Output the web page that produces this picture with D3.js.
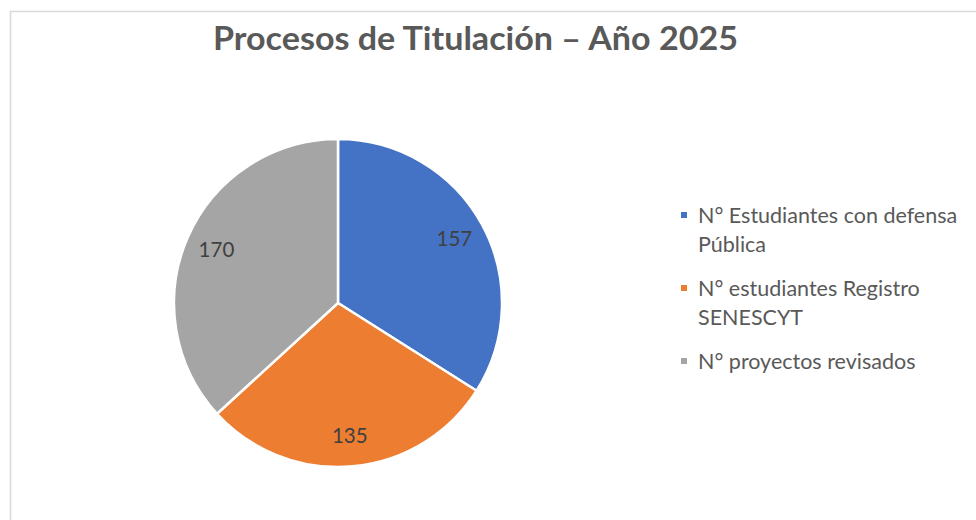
<!DOCTYPE html>
<html>
<head>
<meta charset="utf-8">
<script src="https://cdn.jsdelivr.net/npm/d3@7"></script>
<style>
  body { margin: 0; background: #fff; }
  text { font-family: Lato, "Liberation Sans", sans-serif; }
</style>
</head>
<body>
<div id="chart"></div>
<script>
// chart data
var categories = ["N° Estudiantes con defensa Pública", "N° estudiantes Registro SENESCYT", "N° proyectos revisados"];
var legendLines = [["N° Estudiantes con defensa", "Pública"], ["N° estudiantes Registro", "SENESCYT"], ["N° proyectos revisados"]];
var values = [157, 135, 170];
var colors = ["#4472C4", "#ED7D31", "#A5A5A5"];
var title = "Procesos de Titulación – Año 2025";

var svgWidth = 976;
var svgHeight = 520;
var cx = 338, cy = 303, radius = 164;

var svg = d3.select("#chart")
    .append("svg")
    .attr("width", svgWidth)
    .attr("height", svgHeight);

// chart area border (only top and left visible in frame)
svg.append("rect")
    .attr("x", 10.5)
    .attr("y", 11.5)
    .attr("width", 1200)
    .attr("height", 800)
    .attr("fill", "none")
    .attr("stroke", "#d9d9d9")
    .attr("stroke-width", 1.5);

// title
svg.append("text")
    .attr("x", 475.5)
    .attr("y", 50)
    .attr("text-anchor", "middle")
    .attr("font-size", "32px")
    .attr("font-weight", "bold")
    .attr("fill", "#595959")
    .attr("textLength", 525)
    .attr("lengthAdjust", "spacingAndGlyphs")
    .text(title);

var color = d3.scaleOrdinal().domain(categories).range(colors);

var pie = d3.pie().sort(null).value(function(d) { return d.value; });
var data = categories.map(function(c, i) { return {name: c, value: values[i]}; });
var arcs = pie(data);

var arc = d3.arc().innerRadius(0).outerRadius(radius);
var labelArc = d3.arc().innerRadius(radius * 0.81).outerRadius(radius * 0.81);

var g = svg.append("g").attr("transform", "translate(" + cx + "," + cy + ")");

g.selectAll("path")
    .data(arcs)
    .enter()
    .append("path")
    .attr("d", arc)
    .attr("fill", function(d) { return color(d.data.name); })
    .attr("stroke", "#fff")
    .attr("stroke-width", 2.5)
    .attr("stroke-linejoin", "round");

g.selectAll(".lbl")
    .data(arcs)
    .enter()
    .append("text")
    .attr("class", "lbl")
    .attr("transform", function(d) { return "translate(" + labelArc.centroid(d) + ")"; })
    .attr("text-anchor", "middle")
    .attr("dy", "0.36em")
    .attr("font-size", "20.5px")
    .attr("fill", "#404040")
    .text(function(d) { return d.data.value; });

// legend
var legendTop = [223, 296, 369];
var legend = svg.selectAll(".legend")
    .data(categories)
    .enter()
    .append("g")
    .attr("class", "legend")
    .attr("transform", function(d, i) { return "translate(0," + legendTop[i] + ")"; });

legend.append("rect")
    .attr("x", 681)
    .attr("y", -11)
    .attr("width", 6)
    .attr("height", 6)
    .attr("fill", function(d) { return color(d); });

legend.append("text")
    .attr("x", 698)
    .attr("y", 0)
    .attr("font-size", "21.5px")
    .attr("fill", "#595959")
    .selectAll("tspan")
    .data(function(d, i) { return legendLines[i]; })
    .enter()
    .append("tspan")
    .attr("x", 698)
    .attr("dy", function(d, i) { return i === 0 ? 0 : 29; })
    .text(function(d) { return d; });
</script>
</body>
</html>
